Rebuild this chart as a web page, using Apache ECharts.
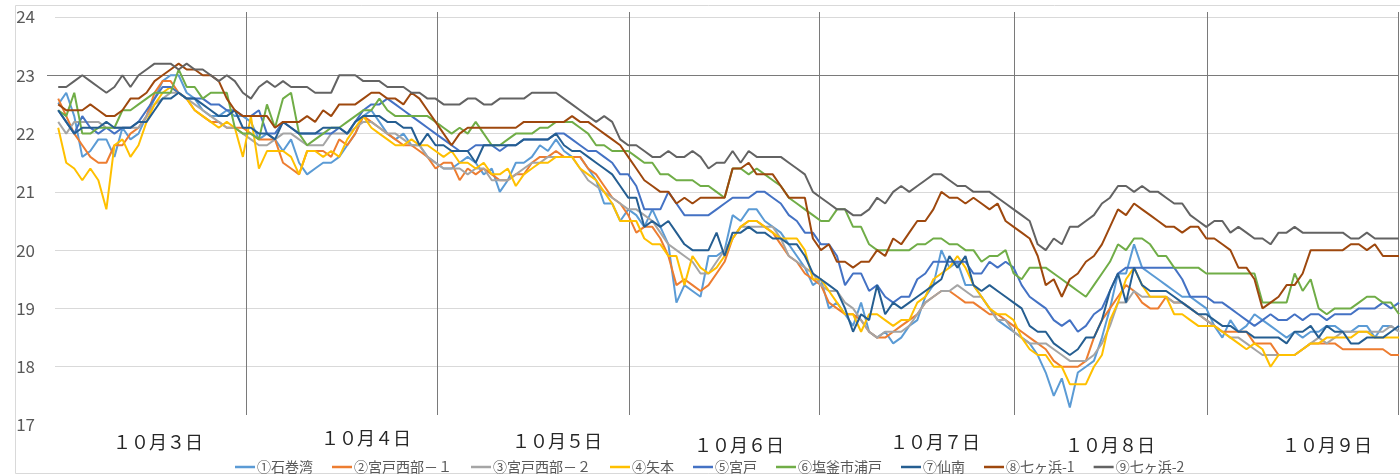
<!DOCTYPE html>
<html><head><meta charset="utf-8">
<script src="https://cdn.jsdelivr.net/npm/echarts@6/dist/echarts.min.js"></script>
<style>html,body{margin:0;padding:0;background:#fff}#c{width:1400px;height:475px}</style>
</head><body><div id="c"></div>
<script>
// ---- data ----
const seriesNames = ['①石巻湾','②宮戸西部－１','③宮戸西部－２','④矢本','⑤宮戸','⑥塩釜市浦戸','⑦仙南','⑧七ヶ浜-1','⑨七ヶ浜-2'];
const dayLabels = ['１０月３日','１０月４日','１０月５日','１０月６日','１０月７日','１０月８日','１０月９日'];
const yTicks = [17,18,19,20,21,22,23,24];
// day separators (hour index where each day boundary was drawn)
const daySeparators = [23.5, 47.3, 71.2, 94.9, 119.2, 143.2, 167];
const refLineValue = 23;

const s1 = [22.5,22.7,22.3,21.6,21.7,21.9,21.9,21.6,22.1,21.9,22.0,22.3,22.6,22.9,23.0,23.0,22.7,22.6,22.4,22.3,22.3,22.4,22.3,22.3,22.2,21.9,22.0,21.9,21.7,21.9,21.5,21.3,21.4,21.5,21.5,21.6,21.8,
22.0,22.3,22.4,22.2,22.0,21.9,22.0,21.8,21.8,21.6,21.5,21.4,21.4,21.5,21.6,21.5,21.3,21.4,21.0,21.2,21.5,21.5,21.6,21.8,21.7,21.9,21.7,21.6,
21.6,21.4,21.2,20.8,20.8,20.5,20.7,20.6,20.4,20.7,20.4,20.1,19.1,19.4,19.3,19.2,19.9,19.9,20.0,20.6,20.5,20.7,20.7,20.5,20.4,20.3,20.1,19.9,19.7,19.4,19.5,19.0,19.1,18.9,18.7,19.1,18.6,18.5,
18.6,18.4,18.5,18.7,18.8,19.2,19.4,20.0,19.7,19.8,19.4,19.4,19.2,19.0,18.8,18.7,18.6,18.5,18.4,18.2,17.9,17.5,17.8,17.3,17.9,18.0,18.1,18.5,19.0,19.6,19.6,20.1,19.7,19.6,19.5,19.4,19.3,19.2,
19.2,19.1,19.0,18.7,18.5,18.8,18.6,18.7,18.9,18.8,18.7,18.6,18.5,18.6,18.5,18.6,18.6,18.7,18.7,18.6,18.6,18.7,18.7,18.5,18.7,18.7,18.6];
const s2 = [22.6,22.3,22.0,21.8,21.6,21.5,21.5,21.8,21.8,22.0,22.1,22.3,22.7,22.9,22.9,22.7,22.6,22.4,22.3,22.2,22.2,22.1,22.1,22.1,22.0,21.9,21.9,21.9,21.5,21.4,21.3,21.7,21.7,21.7,21.6,21.9,21.8,
22.0,22.3,22.2,22.1,22.0,21.9,21.8,21.8,21.7,21.6,21.4,21.5,21.5,21.2,21.4,21.3,21.4,21.3,21.2,21.2,21.3,21.3,21.5,21.6,21.6,21.7,21.6,21.6,
21.6,21.4,21.3,21.1,20.9,20.8,20.6,20.3,20.4,20.4,20.2,19.9,19.4,19.5,19.4,19.3,19.4,19.6,19.8,20.2,20.4,20.5,20.5,20.4,20.3,20.1,19.9,19.8,19.6,19.5,19.4,19.1,19.0,18.9,18.9,18.8,18.6,18.5,
18.5,18.6,18.7,18.8,18.9,19.1,19.2,19.3,19.3,19.2,19.1,19.1,19.0,18.9,18.9,18.8,18.7,18.6,18.5,18.4,18.3,18.1,18.0,18.0,18.0,18.1,18.5,18.8,19.0,19.2,19.4,19.3,19.1,19.0,19.0,19.2,19.1,19.1,
19.0,18.9,18.8,18.7,18.6,18.6,18.6,18.6,18.4,18.4,18.4,18.2,18.2,18.2,18.3,18.4,18.4,18.4,18.4,18.3,18.3,18.3,18.3,18.3,18.3,18.2,18.2];
const s3 = [22.2,22.0,22.2,22.2,22.2,22.2,22.1,22.1,22.1,22.1,22.1,22.3,22.5,22.6,22.7,22.7,22.6,22.5,22.4,22.3,22.2,22.1,22.1,22.0,21.9,21.8,21.8,21.9,22.0,22.0,21.9,21.8,21.8,21.8,22.0,22.0,22.0,
22.1,22.2,22.2,22.1,22.0,22.0,21.9,21.8,21.8,21.6,21.5,21.4,21.4,21.4,21.3,21.4,21.4,21.2,21.2,21.2,21.3,21.4,21.5,21.5,21.6,21.6,21.6,21.6,
21.4,21.2,21.1,21.0,20.9,20.8,20.7,20.7,20.6,20.5,20.3,20.1,20.0,19.9,19.8,19.6,19.6,19.8,20.0,20.2,20.4,20.4,20.4,20.4,20.4,20.2,19.9,19.8,19.7,19.6,19.4,19.3,19.3,19.1,19.0,18.8,18.6,18.5,
18.6,18.6,18.6,18.7,18.9,19.1,19.2,19.3,19.3,19.4,19.3,19.2,19.2,19.0,18.8,18.8,18.6,18.5,18.4,18.4,18.4,18.3,18.2,18.1,18.1,18.1,18.2,18.4,18.7,19.1,19.1,19.3,19.2,19.2,19.2,19.2,19.1,19.1,
19.0,18.9,18.8,18.7,18.6,18.5,18.5,18.4,18.3,18.2,18.2,18.2,18.2,18.2,18.3,18.4,18.5,18.4,18.5,18.6,18.6,18.6,18.6,18.6,18.6,18.7,18.6];
const s4 = [22.1,21.5,21.4,21.2,21.4,21.2,20.7,21.8,21.9,21.6,21.8,22.2,22.5,22.7,22.8,22.7,22.6,22.4,22.3,22.2,22.1,22.2,22.1,21.6,22.3,21.4,21.7,21.7,21.7,21.6,21.3,21.7,21.7,21.6,21.7,21.6,21.9,
22.1,22.3,22.1,22.0,21.9,21.8,21.8,21.9,21.8,21.8,21.7,21.6,21.7,21.5,21.5,21.4,21.5,21.3,21.3,21.4,21.1,21.3,21.4,21.5,21.5,21.6,21.6,21.6,
21.4,21.3,21.2,21.0,20.8,20.5,20.5,20.5,20.2,20.1,20.1,19.9,19.9,19.4,19.9,19.7,19.6,19.7,19.9,20.2,20.4,20.5,20.5,20.4,20.3,20.2,20.2,20.2,20.0,19.5,19.5,19.3,19.1,18.9,18.9,18.6,18.9,18.9,
18.8,18.7,18.8,18.8,19.1,19.2,19.5,19.6,19.7,19.9,19.7,19.4,19.2,19.0,18.9,18.9,18.8,18.5,18.3,18.2,18.2,18.0,18.0,17.7,17.7,17.7,18.0,18.2,18.8,19.1,19.5,19.7,19.4,19.2,19.2,19.2,18.9,18.9,
18.8,18.7,18.7,18.7,18.6,18.5,18.4,18.3,18.4,18.3,18.0,18.2,18.2,18.2,18.3,18.4,18.4,18.5,18.5,18.5,18.5,18.6,18.6,18.5,18.5,18.5,18.5];
const s5 = [22.4,22.2,22.0,22.3,22.1,22.0,22.1,22.0,22.1,22.1,22.2,22.4,22.6,22.8,22.8,22.7,22.6,22.6,22.6,22.5,22.5,22.4,22.4,22.3,22.3,22.4,22.0,22.0,22.2,22.1,22.0,22.0,22.0,22.0,22.0,22.1,22.0,
22.2,22.4,22.5,22.5,22.6,22.5,22.4,22.3,22.2,22.1,22.0,21.9,21.8,21.7,21.7,21.8,21.8,21.8,21.7,21.8,21.8,21.9,21.9,21.9,21.9,22.0,22.0,21.9,
21.8,21.7,21.7,21.6,21.5,21.3,21.3,21.1,20.7,20.7,20.7,21.0,20.8,20.6,20.6,20.6,20.6,20.7,20.8,20.9,20.9,20.9,21.0,21.0,20.9,20.8,20.6,20.5,20.3,20.3,20.1,20.1,19.9,19.4,19.6,19.6,19.3,19.4,
19.2,19.1,19.2,19.2,19.5,19.6,19.8,19.8,19.8,19.8,19.8,19.6,19.6,19.8,19.7,19.8,19.7,19.4,19.2,19.1,19.0,18.8,18.7,18.8,18.6,18.7,18.9,19.0,19.3,19.6,19.7,19.7,19.7,19.7,19.7,19.7,19.7,19.5,
19.2,19.2,19.2,19.1,19.1,19.0,18.9,18.8,18.7,18.8,18.9,18.8,18.8,18.9,18.8,18.9,18.9,18.8,18.9,18.9,18.9,19.0,19.0,19.0,19.1,19.0,19.1];
const s6 = [22.4,22.3,22.7,22.0,22.0,22.1,22.1,22.1,22.4,22.4,22.5,22.6,22.7,22.7,22.7,23.1,22.8,22.8,22.6,22.7,22.7,22.7,22.1,22.0,22.0,21.9,22.5,22.1,22.6,22.7,22.0,21.8,21.9,22.0,22.1,22.1,22.2,
22.3,22.4,22.4,22.6,22.4,22.3,22.3,22.3,22.3,22.3,22.2,22.1,22.0,22.1,22.0,22.2,22.0,21.8,21.8,21.9,22.0,22.0,22.0,22.1,22.1,22.2,22.2,22.2,
22.1,22.0,21.8,21.8,21.7,21.7,21.7,21.6,21.5,21.5,21.3,21.3,21.2,21.2,21.2,21.1,21.1,21.0,20.9,21.4,21.4,21.3,21.4,21.3,21.2,21.1,20.9,20.8,20.7,20.6,20.5,20.5,20.7,20.7,20.4,20.4,20.1,20.0,
20.0,20.0,20.0,20.0,20.1,20.1,20.2,20.2,20.1,20.1,20.0,20.0,19.8,19.9,19.9,20.0,19.6,19.5,19.7,19.7,19.7,19.6,19.5,19.4,19.3,19.2,19.4,19.6,19.8,20.1,20.0,20.2,20.2,20.1,19.9,19.9,19.7,19.7,
19.7,19.7,19.6,19.6,19.6,19.6,19.6,19.6,19.6,19.1,19.1,19.1,19.1,19.6,19.3,19.5,19.0,18.9,19.0,19.0,19.0,19.1,19.2,19.2,19.1,19.1,18.9];
const s7 = [22.4,22.2,22.0,22.1,22.1,22.1,22.2,22.1,22.1,22.1,22.2,22.2,22.4,22.6,22.6,22.7,22.6,22.6,22.5,22.4,22.3,22.3,22.4,22.1,22.1,22.0,22.0,21.9,22.2,22.1,22.0,22.0,22.0,22.1,22.1,22.1,22.0,
22.2,22.3,22.3,22.3,22.2,22.2,22.1,22.1,21.8,22.0,21.8,21.8,21.7,21.7,21.7,21.5,21.8,21.8,21.8,21.8,21.8,21.9,21.9,21.9,21.9,22.0,21.8,21.7,
21.7,21.6,21.5,21.4,21.3,21.1,20.9,20.9,20.4,20.5,20.4,20.5,20.3,20.1,20.0,20.0,20.0,20.3,19.9,20.3,20.3,20.4,20.3,20.3,20.2,20.2,20.1,20.1,19.9,19.6,19.5,19.4,19.3,19.0,18.6,18.9,18.8,19.4,
18.9,19.1,19.0,19.1,19.2,19.3,19.4,19.5,19.9,19.7,19.9,19.4,19.3,19.4,19.3,19.2,19.1,19.0,18.7,18.6,18.6,18.4,18.3,18.2,18.3,18.5,18.5,18.8,19.3,19.6,19.1,19.7,19.4,19.3,19.3,19.3,19.2,19.1,
19.0,18.9,18.9,18.8,18.7,18.7,18.6,18.6,18.5,18.5,18.5,18.5,18.4,18.6,18.6,18.7,18.5,18.7,18.6,18.6,18.4,18.4,18.5,18.5,18.5,18.6,18.7];
const s8 = [22.5,22.4,22.4,22.4,22.5,22.4,22.3,22.3,22.4,22.6,22.6,22.7,22.9,23.0,23.1,23.2,23.1,23.1,23.0,23.0,22.9,22.6,22.4,22.3,22.3,22.3,22.3,22.1,22.2,22.2,22.2,22.3,22.2,22.4,22.3,22.5,22.5,
22.5,22.6,22.7,22.7,22.6,22.6,22.5,22.7,22.6,22.4,22.2,22.0,21.8,22.0,22.1,22.1,22.1,22.1,22.1,22.1,22.1,22.2,22.2,22.2,22.2,22.2,22.2,22.3,
22.2,22.2,22.1,22.0,21.9,21.8,21.6,21.4,21.2,21.1,21.0,21.0,20.8,20.9,20.8,20.9,20.9,20.9,20.9,21.4,21.4,21.5,21.3,21.3,21.3,21.1,20.9,20.9,20.9,20.2,20.0,20.1,19.8,19.8,19.7,19.8,19.8,20.0,
19.9,20.2,20.1,20.3,20.5,20.5,20.7,21.0,20.9,20.9,20.8,20.9,20.8,20.7,20.8,20.5,20.4,20.3,20.2,19.9,19.4,19.5,19.2,19.5,19.6,19.8,19.9,20.1,20.4,20.7,20.6,20.8,20.7,20.6,20.5,20.4,20.4,20.3,
20.4,20.4,20.2,20.2,20.1,20.0,19.7,19.7,19.5,19.0,19.1,19.2,19.4,19.4,19.6,20.0,20.0,20.0,20.0,20.0,20.1,20.1,20.0,20.1,19.9,19.9,19.9];
const s9 = [22.8,22.8,22.9,23.0,22.9,22.8,22.7,22.8,23.0,22.8,23.0,23.1,23.2,23.2,23.2,23.1,23.2,23.1,23.1,23.0,22.9,23.0,22.9,22.7,22.6,22.8,22.9,22.8,22.9,22.8,22.8,22.8,22.7,22.7,22.7,23.0,23.0,
23.0,22.9,22.9,22.9,22.8,22.8,22.8,22.7,22.7,22.6,22.6,22.5,22.5,22.5,22.6,22.6,22.5,22.5,22.6,22.6,22.6,22.6,22.7,22.7,22.7,22.7,22.6,22.5,
22.4,22.3,22.2,22.3,22.2,21.9,21.8,21.8,21.7,21.6,21.6,21.7,21.6,21.6,21.7,21.6,21.4,21.5,21.5,21.7,21.5,21.7,21.6,21.6,21.6,21.6,21.5,21.4,21.3,21.0,20.9,20.8,20.7,20.7,20.6,20.6,20.7,20.9,
20.8,21.0,21.1,21.0,21.1,21.2,21.3,21.3,21.2,21.1,21.1,21.0,21.0,21.0,20.9,20.8,20.7,20.6,20.5,20.1,20.0,20.2,20.1,20.4,20.4,20.5,20.6,20.8,20.9,21.1,21.1,21.0,21.1,21.0,21.0,20.9,20.8,20.8,
20.6,20.5,20.4,20.5,20.5,20.3,20.4,20.3,20.2,20.2,20.1,20.3,20.3,20.4,20.3,20.3,20.3,20.3,20.3,20.3,20.2,20.2,20.3,20.2,20.2,20.2,20.2];
const seriesValues = [s1,s2,s3,s4,s5,s6,s7,s8,s9];

// ---- styles / layout ----
const colors = ['#5B9BD5','#ED7D31','#A5A5A5','#FFC000','#4472C4','#70AD47','#255E91','#9E480E','#636363'];
const dayLabelPos = [[158,442],[366,438],[557,441],[739,445],[935,442],[1110,445],[1327,445]];
const FONT = '"Noto Sans CJK JP", "Noto Sans", sans-serif';
const SEP_COLOR = '#7a7a7a';

const chart = echarts.init(document.getElementById('c'), null, {renderer:'canvas'});

const lineSeries = seriesNames.map((name, k) => ({
  name, type:'line', z:3,
  data: seriesValues[k].map((v,i)=>[i, v]),
  showSymbol:false, symbol:'none',
  lineStyle:{color:colors[k], width:2},
  itemStyle:{color:colors[k]},
  animation:false
}));

const baseGraphics = [
  {type:'rect', silent:true, z:0, shape:{x:15.5, y:5.5, width:1400, height:468},
    style:{fill:'none', stroke:'#d9d9d9', lineWidth:1}}
].concat(dayLabels.map((t,k)=>({
  type:'text', silent:true, x:dayLabelPos[k][0], y:dayLabelPos[k][1], z:5,
  style:{text:t, fill:'#262626', fontSize:18, fontFamily:FONT, align:'center', verticalAlign:'middle'}
})));

chart.setOption({
  animation:false,
  backgroundColor:'#fff',
  grid:{left:55, right:1, top:17, bottom:50, containLabel:false},
  xAxis:{type:'value', min:-0.4, max:167, show:true,
    axisLine:{show:false}, axisTick:{show:false}, axisLabel:{show:false}, splitLine:{show:false}},
  yAxis:{type:'value', min:yTicks[0], max:yTicks[yTicks.length-1], interval:1,
    axisLine:{show:false}, axisTick:{show:false},
    axisLabel:{color:'#595959', fontSize:17, fontFamily:FONT, margin:20},
    splitLine:{show:true, showMinLine:false, lineStyle:{color:'#d9d9d9', width:1}}},
  legend:{
    data: seriesNames, left:230, top:455, icon:'rect', itemWidth:20, itemHeight:2.5, itemGap:19,
    textStyle:{color:'#595959', fontSize:14, fontFamily:FONT, padding:[0,0,0,-3]},
    selectedMode:false
  },
  graphic: baseGraphics,
  series: lineSeries
});

// separator lines positioned through the chart's own scales
const sepGraphics = [];
const pRef = chart.convertToPixel({gridIndex:0}, [167, refLineValue]);
sepGraphics.push({type:'line', silent:true, z:1,
  shape:{x1:47, y1:Math.round(pRef[1])+0.5, x2:pRef[0], y2:Math.round(pRef[1])+0.5},
  style:{stroke:SEP_COLOR, lineWidth:1}});
daySeparators.forEach(d=>{
  const top = chart.convertToPixel({gridIndex:0}, [d, 24]);
  const bot = chart.convertToPixel({gridIndex:0}, [d, 17]);
  const x = Math.round(top[0]) - 0.5;
  sepGraphics.push({type:'line', silent:true, z:1,
    shape:{x1:x, y1:top[1]-5, x2:x, y2:bot[1]-10},
    style:{stroke:SEP_COLOR, lineWidth:1}});
});
chart.setOption({graphic: baseGraphics.concat(sepGraphics)});
</script>
</body></html>
